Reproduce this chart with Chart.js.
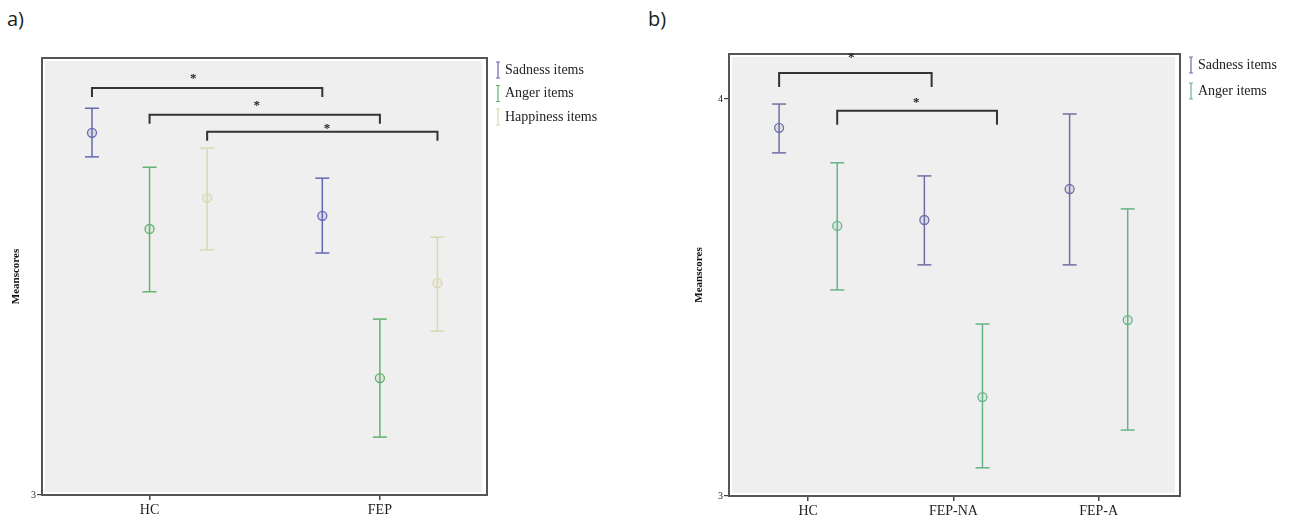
<!DOCTYPE html>
<html>
<head>
<meta charset="utf-8">
<script src="https://cdn.jsdelivr.net/npm/chart.js@4"></script>
<style>
    body { margin: 0; background: #fff; width: 1299px; height: 525px; position: relative; overflow: hidden; }
    .panel { position: absolute; top: 0; }
    #wrapA { left: 0; }
    #wrapB { left: 650px; }
    .tag { position: absolute; top: 4px; font: 20px "Open Sans", "Liberation Sans", sans-serif; color: #222; line-height: 30px; }
</style>
</head>
<body>
<div class="tag" style="left:7px">a)</div>
<div class="tag" style="left:648px">b)</div>
<div class="panel" id="wrapA"><canvas id="chartA" width="650" height="525"></canvas></div>
<div class="panel" id="wrapB"><canvas id="chartB" width="649" height="525"></canvas></div>
<script>
// Panel a) data
const catsA = ['HC', 'FEP'];
const sadMeanA = [3.663, 3.511];
const sadLowA = [3.619, 3.443];
const sadHighA = [3.708, 3.580];
const angMeanA = [3.487, 3.214];
const angLowA = [3.372, 3.106];
const angHighA = [3.600, 3.322];
const hapMeanA = [3.544, 3.388];
const hapLowA = [3.449, 3.300];
const hapHighA = [3.635, 3.472];
const yTicksA = [3];

// Panel b) data
const catsB = ['HC', 'FEP-NA', 'FEP-A'];
const sadMeanB = [3.927, 3.695, 3.773];
const sadLowB = [3.864, 3.582, 3.582];
const sadHighB = [3.987, 3.806, 3.962];
const angMeanB = [3.680, 3.249, 3.443];
const angLowB = [3.519, 3.071, 3.166];
const angHighB = [3.839, 3.433, 3.723];
const yTicksB = [3, 4];

const SERIF = '"Liberation Serif", "DejaVu Serif", serif';

function buildDatasets(cats, series, offsets) {
    const out = [];
    // whiskers: line between low and high, caps drawn as 'line' points
    series.forEach((s, si) => {
        cats.forEach((c, ci) => {
            const x = ci + offsets[si];
            out.push({
                data: [{ x: x, y: s.low[ci] }, { x: x, y: s.high[ci] }],
                showLine: true,
                borderColor: s.color,
                borderWidth: 1.5,
                pointStyle: 'line',
                pointRadius: 7,
                pointHoverRadius: 7,
                pointBorderColor: s.color,
                pointBorderWidth: 1.5
            });
        });
    });
    // means
    series.forEach((s, si) => {
        out.push({
            data: cats.map((c, ci) => ({ x: ci + offsets[si], y: s.mean[ci] })),
            showLine: false,
            pointStyle: 'circle',
            pointRadius: 4.5,
            pointHoverRadius: 4.5,
            pointBorderColor: s.color,
            pointBackgroundColor: s.fill,
            pointBorderWidth: 1.3
        });
    });
    return out;
}

const deco = {
    id: 'deco',
    beforeDatasetsDraw(chart) {
        const { ctx, chartArea: a } = chart;
        ctx.save();
        ctx.fillStyle = '#efefef';
        ctx.fillRect(a.left + 3, a.top + 3, a.width - 8, a.height - 6);
        ctx.restore();
    },
    afterDraw(chart) {
        const { ctx, chartArea: a, scales } = chart;
        const o = chart.options.plugins.deco;
        ctx.save();
        // frame
        ctx.strokeStyle = '#555';
        ctx.lineWidth = 2;
        ctx.strokeRect(a.left, a.top, a.width, a.height);

        // significance brackets
        ctx.strokeStyle = '#333';
        ctx.fillStyle = '#222';
        ctx.font = 'bold 13px ' + SERIF;
        ctx.textAlign = 'center';
        ctx.textBaseline = 'middle';
        o.brackets.forEach(b => {
            const x1 = scales.x.getPixelForValue(b.from);
            const x2 = scales.x.getPixelForValue(b.to);
            const y = scales.y.getPixelForValue(b.level);
            ctx.beginPath();
            ctx.moveTo(x1, y + o.leg);
            ctx.lineTo(x1, y);
            ctx.lineTo(x2, y);
            ctx.lineTo(x2, y + o.leg);
            ctx.stroke();
            ctx.fillText('*', scales.x.getPixelForValue(b.starX), scales.y.getPixelForValue(b.starY) + 3);
        });

        // legend on the right
        ctx.font = '14px ' + SERIF;
        ctx.textAlign = 'left';
        ctx.lineWidth = 1.2;
        o.series.forEach((s, i) => {
            const x = a.right + 11;
            const y = o.legendTop + i * o.legendGap;
            ctx.strokeStyle = s.color;
            ctx.beginPath();
            ctx.moveTo(x, y - 8); ctx.lineTo(x, y + 8);
            ctx.moveTo(x - 2, y - 8); ctx.lineTo(x + 2, y - 8);
            ctx.moveTo(x - 2, y + 8); ctx.lineTo(x + 2, y + 8);
            ctx.stroke();
            ctx.fillStyle = '#222';
            ctx.fillText(s.label, x + 7, y);
        });
        ctx.restore();
    }
};

function makeChart(id, cfg) {
    return new Chart(document.getElementById(id), {
        type: 'scatter',
        data: { datasets: buildDatasets(cfg.cats, cfg.series, cfg.offsets) },
        plugins: [deco],
        options: {
            responsive: false,
            animation: false,
            events: [],
            layout: { padding: cfg.padding },
            plugins: {
                legend: { display: false },
                tooltip: { enabled: false },
                deco: cfg.deco
            },
            scales: {
                x: {
                    type: 'linear',
                    min: cfg.xMin,
                    max: cfg.xMax,
                    afterBuildTicks: s => { s.ticks = cfg.cats.map((c, i) => ({ value: i })); },
                    afterFit: s => { s.height = cfg.xHeight; },
                    ticks: {
                        callback: v => cfg.cats[v],
                        font: { family: SERIF, size: 14 },
                        color: '#222',
                        padding: 2,
                        maxRotation: 0,
                        autoSkip: false
                    },
                    grid: { drawOnChartArea: false, tickLength: 5, color: '#444', lineWidth: 1.5 },
                    border: { display: false }
                },
                y: {
                    min: 3,
                    max: cfg.yMax,
                    afterBuildTicks: s => { s.ticks = cfg.yTicks.map(v => ({ value: v })); },
                    afterFit: s => { s.width = cfg.yWidth; },
                    ticks: { font: { family: SERIF, size: 10 }, color: '#222', padding: 1 },
                    grid: { drawOnChartArea: false, tickLength: 5, color: '#444', lineWidth: 1.2 },
                    border: { display: false },
                    title: {
                        display: true,
                        text: 'Meanscores',
                        font: { family: SERIF, size: 11, weight: 'bold' },
                        color: '#111',
                        padding: { top: cfg.titlePad, bottom: 0 }
                    }
                }
            }
        }
    });
}

const sadColA = '#6468b4', angColA = '#62b26e', hapColA = '#d9d9ae';
const sadColB = '#6e6fa6', angColB = '#66b486';

const seriesA = [
    { label: 'Sadness items', mean: sadMeanA, low: sadLowA, high: sadHighA, color: sadColA, fill: 'rgba(100,104,180,0.15)' },
    { label: 'Anger items', mean: angMeanA, low: angLowA, high: angHighA, color: angColA, fill: 'rgba(98,178,110,0.12)' },
    { label: 'Happiness items', mean: hapMeanA, low: hapLowA, high: hapHighA, color: hapColA, fill: 'rgba(217,217,174,0.2)' }
];
const seriesB = [
    { label: 'Sadness items', mean: sadMeanB, low: sadLowB, high: sadHighB, color: sadColB, fill: 'rgba(110,111,166,0.15)' },
    { label: 'Anger items', mean: angMeanB, low: angLowB, high: angHighB, color: angColB, fill: 'rgba(102,180,134,0.12)' }
];

makeChart('chartA', {
    cats: catsA,
    series: seriesA,
    offsets: [-0.25, 0, 0.25],
    xMin: -0.467, xMax: 1.465,
    yMax: 3.8, yTicks: yTicksA,
    padding: { top: 58, right: 163, bottom: 0, left: 0 },
    xHeight: 30, yWidth: 42, titlePad: 10,
    deco: {
        series: seriesA,
        legendTop: 70, legendGap: 23.5, leg: 9,
        brackets: [
            { from: -0.25, to: 0.75, level: 3.745, starX: 0.19, starY: 3.767 },
            { from: 0, to: 1, level: 3.696, starX: 0.465, starY: 3.719 },
            { from: 0.25, to: 1.25, level: 3.665, starX: 0.77, starY: 3.676 }
        ]
    }
});

makeChart('chartB', {
    cats: catsB,
    series: seriesB,
    offsets: [-0.2, 0.2],
    xMin: -0.545, xMax: 2.56,
    yMax: 4.113, yTicks: yTicksB,
    padding: { top: 54, right: 119, bottom: 0, left: 0 },
    xHeight: 29, yWidth: 79, titlePad: 43,
    deco: {
        series: seriesB,
        legendTop: 65, legendGap: 26, leg: 14,
        brackets: [
            { from: -0.2, to: 0.85, level: 4.065, starX: 0.297, starY: 4.111 },
            { from: 0.2, to: 1.3, level: 3.970, starX: 0.745, starY: 3.997 }
        ]
    }
});
</script>
</body>
</html>
